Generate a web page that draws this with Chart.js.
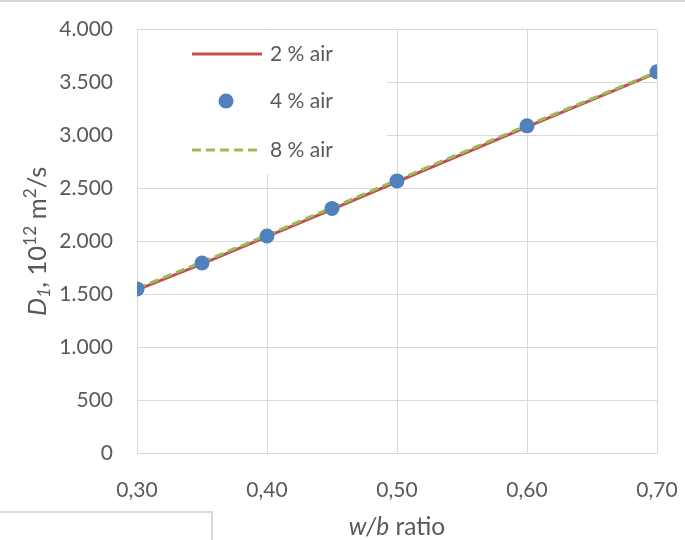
<!DOCTYPE html>
<html>
<head>
<meta charset="utf-8">
<script src="https://cdn.jsdelivr.net/npm/chart.js@4"></script>
<style>
  body { margin: 0; background: #fff; }
  #wrap { position: relative; width: 685px; height: 540px; overflow: hidden; }
  #topline { position: absolute; left: 0; top: 0; width: 685px; height: 2px; background: #d6d6d6; }
  #cell { position: absolute; left: 0; top: 511px; width: 211px; height: 40px; border: 2px solid #d9d9d9; border-left: none; }
</style>
</head>
<body>
<div id="wrap">
  <canvas id="grafica" width="685" height="540"></canvas>
  <div id="topline"></div>
  <div id="cell"></div>
</div>
<script type="text/javascript">

    // w/b ratio on the x axis
    var razonWB = [0.30, 0.35, 0.40, 0.45, 0.50, 0.60, 0.70]
    // D1 values (10^12 m2/s) for each air content
    var aire2 = [1540, 1787, 2043, 2302, 2562, 3080, 3592]
    var aire4 = [1550, 1795, 2050, 2310, 2570, 3090, 3600]
    var aire8 = [1556, 1803, 2058, 2318, 2578, 3094, 3600]
    var etiquetas = ["2 % air", "4 % air", "8 % air"]

    var fuente = "Lato, 'Open Sans', sans-serif"
    var gris = "#595959"
    var rejilla = "#D9D9D9"

    function puntos(valores){
        return razonWB.map((x, i) => ({x: x, y: valores[i]}))
    }

    function formatoMiles(v){
        return String(v).replace(/\B(?=(\d{3})+(?!\d))/g, ".")
    }

    // draws a line of text made of pieces (italic, sub, sup) centred at 0,0
    function textoRico(ctx, partes, size){
        let medidas = partes.map(p => {
            let s = (p.sub || p.sup) ? size * 0.68 : size
            ctx.font = (p.italic ? "italic " : "") + s + "px " + fuente
            return {p: p, s: s, w: ctx.measureText(p.t).width}
        })
        let total = medidas.reduce((a, m) => a + m.w, 0)
        let x = -total / 2
        ctx.textBaseline = "middle"
        ctx.textAlign = "left"
        medidas.forEach(m => {
            ctx.font = (m.p.italic ? "italic " : "") + m.s + "px " + fuente
            let dy = m.p.sub ? size * 0.25 : (m.p.sup ? -size * 0.3 : 0)
            ctx.fillText(m.p.t, x, dy)
            x += m.w
        })
    }

    var titulosEjes = {
        id: "titulosEjes",
        afterDraw(chart){
            let ctx = chart.ctx
            let area = chart.chartArea
            ctx.save()
            ctx.fillStyle = gris
            ctx.translate(38, (area.top + area.bottom) / 2)
            ctx.rotate(-Math.PI / 2)
            textoRico(ctx, [
                {t: "D", italic: true}, {t: "1", italic: true, sub: true},
                {t: ", 10"}, {t: "12", sup: true}, {t: " m"}, {t: "2", sup: true}, {t: "/s"}
            ], 25.5)
            ctx.restore()
            ctx.save()
            ctx.fillStyle = gris
            ctx.translate((area.left + area.right) / 2, 527)
            textoRico(ctx, [{t: "w/b", italic: true}, {t: " ratio"}], 24.5)
            ctx.restore()
        }
    }

    // legend box inside the plot, over the grid
    var leyenda = {
        id: "leyenda",
        beforeDatasetsDraw(chart){
            let ctx = chart.ctx
            let area = chart.chartArea
            ctx.save()
            ctx.fillStyle = "#fff"
            ctx.fillRect(area.left + 1, area.top + 1, 249, 144)
            let filas = [area.top + 24.5, area.top + 71.5, area.top + 120.5]
            chart.data.datasets.forEach((ds, i) => {
                let y = filas[i]
                if (ds.showLine === false) {
                    ctx.fillStyle = ds.pointBackgroundColor
                    ctx.beginPath()
                    ctx.arc(226, y, ds.pointRadius, 0, Math.PI * 2)
                    ctx.fill()
                } else {
                    ctx.strokeStyle = ds.borderColor
                    ctx.lineWidth = ds.borderWidth
                    ctx.setLineDash(ds.borderDash || [])
                    ctx.beginPath()
                    ctx.moveTo(192, y)
                    ctx.lineTo(262, y)
                    ctx.stroke()
                    ctx.setLineDash([])
                }
                ctx.fillStyle = gris
                ctx.font = "21px " + fuente
                ctx.textBaseline = "middle"
                ctx.fillText(ds.label, 270, y)
            })
            ctx.restore()
        }
    }

    var canvas = document.getElementById('grafica')
    var context = canvas.getContext('2d');

    var datos = {
        datasets: [{
            label: etiquetas[0],
            data: puntos(aire2),
            borderColor: "#C0504D",
            borderWidth: 3,
            pointRadius: 0,
            order: 2
        },{
            label: etiquetas[1],
            data: puntos(aire4),
            showLine: false,
            pointRadius: 7.5,
            pointBackgroundColor: "#4F81BD",
            pointBorderWidth: 0,
            order: 0
        },{
            label: etiquetas[2],
            data: puntos(aire8),
            borderColor: "#9BBB59",
            borderWidth: 3,
            borderDash: [9, 5],
            pointRadius: 0,
            order: 1
        }]
    };

    window.linea = new Chart(context, {
        type: "line",
        data: datos,
        plugins: [leyenda, titulosEjes],
        options: {
            responsive: false,
            animation: false,
            layout: { padding: { top: 29.5, right: 28, left: 0, bottom: 0 } },
            plugins: {
                legend: { display: false },
                tooltip: { enabled: false }
            },
            scales: {
                x: {
                    type: "linear",
                    min: 0.3,
                    max: 0.7,
                    afterFit: s => {
                        s.height = 87
                        s.paddingLeft = 0
                        s.paddingRight = 0
                    },
                    grid: { color: rejilla, drawTicks: false },
                    border: { color: rejilla },
                    ticks: {
                        stepSize: 0.1,
                        padding: 25,
                        color: gris,
                        font: { family: fuente, size: 21 },
                        callback: v => v.toFixed(2).replace(".", ",")
                    }
                },
                y: {
                    min: 0,
                    max: 4000,
                    afterFit: s => {
                        s.width = 137
                        s.paddingTop = 0
                        s.paddingBottom = 0
                    },
                    grid: { color: rejilla, drawTicks: false },
                    border: { color: rejilla },
                    ticks: {
                        stepSize: 500,
                        padding: 24,
                        color: gris,
                        font: { family: fuente, size: 21 },
                        callback: v => formatoMiles(v)
                    }
                }
            }
        }
    });

</script>
</body>
</html>
